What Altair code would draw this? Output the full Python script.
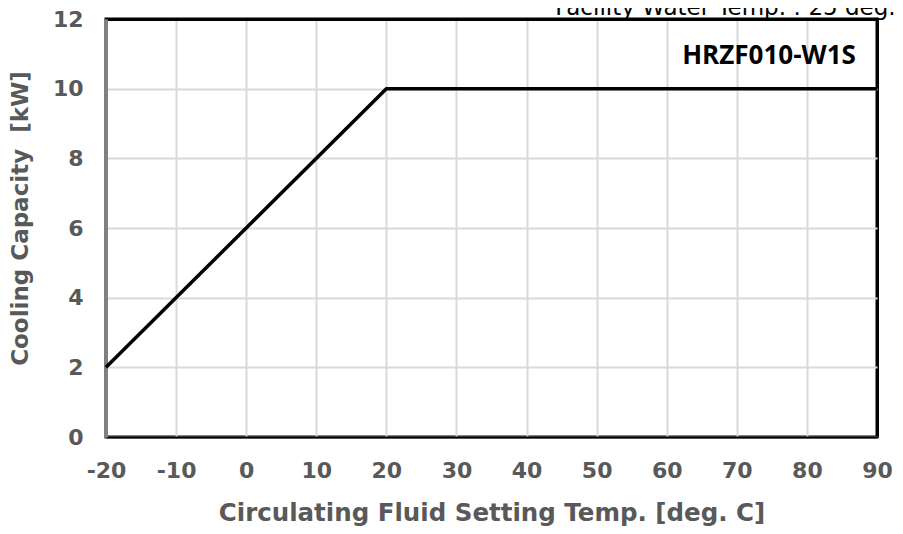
import altair as alt
import pandas as pd

# data
temps = [-20, 20, 90]
capacity = [2, 10, 10]
x_ticks = [-20, -10, 0, 10, 20, 30, 40, 50, 60, 70, 80, 90]
y_ticks = [0, 2, 4, 6, 8, 10, 12]
model_label = "HRZF010-W1S"
top_note = "Facility Water Temp. : 25 deg. C"
x_title = "Circulating Fluid Setting Temp. [deg. C]"
y_title = "Cooling Capacity\u00a0\u00a0[kW]"

df = pd.DataFrame({"temp": temps, "cap": capacity})

W, H = 771, 418
GRAY = "#595959"
GRID = "#d9d9d9"

x_enc = alt.X(
    "temp:Q",
    scale=alt.Scale(domain=[-20, 90], nice=False),
    axis=alt.Axis(
        values=x_ticks, title=x_title, grid=True,
        gridColor=alt.condition("datum.value == 90", alt.value("black"), alt.value(GRID)),
        gridWidth=alt.condition("datum.value == 90", alt.value(3), alt.value(2)),
        ticks=False, domainColor="#000000", domainWidth=2,
        labelExpr="'' + datum.value",
        labelFont="DejaVu Sans", labelFontWeight="bold", labelFontSize=22, labelColor=GRAY,
        labelPadding=23, labelFlush=False,
        titleFont="DejaVu Sans", titleFontWeight="bold", titleFontSize=24.5, titleColor=GRAY,
        titlePadding=20,
    ),
)
y_enc = alt.Y(
    "cap:Q",
    scale=alt.Scale(domain=[0, 12], nice=False),
    axis=alt.Axis(
        values=y_ticks, title=y_title, grid=True,
        gridColor=alt.condition("datum.value == 12", alt.value("black"), alt.value(GRID)),
        gridWidth=alt.condition("datum.value == 12", alt.value(3), alt.value(2)),
        ticks=False, domainColor="#808080", domainWidth=3,
        labelFont="DejaVu Sans", labelFontWeight="bold", labelFontSize=22, labelColor=GRAY,
        labelPadding=23,
        titleFont="DejaVu Sans", titleFontWeight="bold", titleFontSize=23, titleColor=GRAY,
        titlePadding=20, titleY=199,
    ),
)

line = alt.Chart(df).mark_line(color="black", strokeWidth=3.5).encode(x=x_enc, y=y_enc)

label = alt.Chart(pd.DataFrame({"t": [model_label]})).mark_text(
    font="Open Sans", fontWeight="bold", fontSize=26, color="black", align="center", baseline="middle"
).encode(x=alt.value(663), y=alt.value(37), text="t:N")

note = alt.Chart(pd.DataFrame({"t": [top_note]})).mark_text(
    font="DejaVu Sans", fontSize=23, color="black", align="right", baseline="alphabetic"
).encode(x=alt.value(W + 42), y=alt.value(-4), text="t:N")

chart = alt.layer(line, label, note).properties(
    width=W, height=H,
    autosize=alt.AutoSizeParams(type="none"),
    padding={"left": 98, "top": 11, "right": 18, "bottom": 97},
).configure_view(stroke="black", strokeWidth=3)

chart.save("out.html", embed_options={"renderer": "svg", "actions": False})
